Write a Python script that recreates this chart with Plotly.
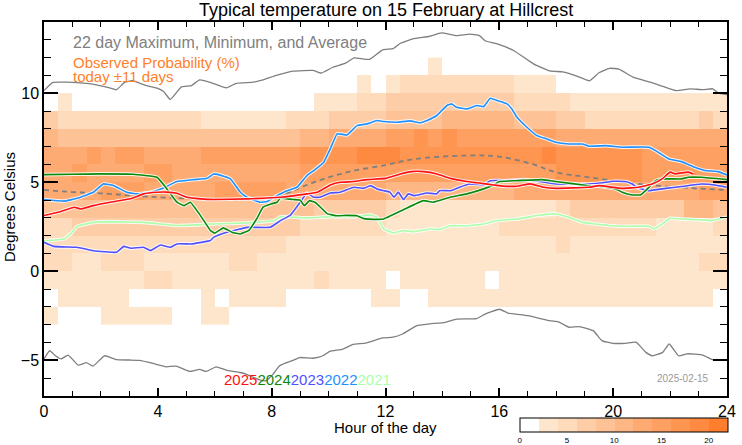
import numpy as np
import plotly.graph_objects as go

# ---------------- heatmap data (observed probability, %) ----------------
hour_edges = np.arange(0, 24.01, 0.5)          # 48 half-hour bins
temp_edges = np.arange(-3, 12.01, 1.0)         # 15 one-degree bins (-3 .. 12)

prob_m3 = [3,0,0,0,3,3,3,3,3,0,0,3, 3,0,0,0,0,0,0,0,0,0,0,0, 0,0,0,0,0,0,0,0,0,0,0,0, 0,0,0,0,0,0,0,0,0,0,0,0]
prob_m2 = [0,3,3,3,3,3,0,0,0,0,0,3, 0,3,3,3,3,0,0,0,0,0,0,3, 3,0,0,3,3,3,3,3,3,3,3,3, 3,3,3,3,3,3,3,3,3,3,3,0]
prob_m1 = [3,3,3,3,3,3,3,5,5,3,3,3, 3,3,3,3,3,3,3,5,3,3,3,3, 0,3,3,3,3,3,3,0,3,3,3,3, 3,3,3,3,3,3,3,3,3,3,3,3]
prob_p0 = [5,5,3,3,5,5,5,3,3,3,3,3, 3,5,5,3,3,3,3,3,3,3,3,3, 3,3,3,3,3,3,3,3,3,3,3,3, 3,3,3,3,3,3,3,3,3,3,5,5]
prob_p1 = [5,5,5,5,5,5,5,5,5,5,5,5, 5,5,5,5,5,3,3,3,3,3,3,3, 3,3,3,3,3,3,3,3,3,3,3,3, 5,3,3,3,3,3,3,3,3,3,3,3]
prob_p2 = [5,5,7,7,7,7,7,7,7,7,7,7, 7,7,7,7,7,7,5,5,5,5,5,5, 3,3,3,3,3,3,3,3,5,5,5,5, 5,5,5,5,5,5,5,3,3,3,3,5]
prob_p3 = [9,9,9,9,9,9,9,9,9,9,9,9, 9,9,9,9,9,9,9,7,7,7,7,7, 5,3,3,3,3,3,3,3,3,3,3,3, 5,7,7,7,7,7,7,7,7,11,11,9]
prob_p4 = [13,13,13,13,15,15,15,13,13,13,13,13, 15,15,15,15,15,13,13,13,13,13,13,13, 11,11,11,11,11,11,11,11,11,13,13,13, 13,13,13,13,13,13,13,13,13,13,15,15]
prob_p5 = [13,13,15,13,13,13,13,15,15,13,13,13, 13,13,13,13,13,13,15,15,15,15,15,15, 15,15,15,15,15,15,15,15,15,15,15,15, 17,17,17,17,17,17,15,15,15,15,15,15]
prob_p6 = [13,13,13,15,13,15,15,13,13,13,13,15, 15,15,15,15,15,15,17,17,17,17,19,19, 19,17,17,17,17,17,17,17,17,17,17,19, 17,17,17,17,17,17,15,15,15,15,15,15]
prob_p7 = [11,9,9,9,9,9,9,9,9,9,9,9, 9,9,9,9,9,9,11,11,13,13,13,13, 15,15,17,15,17,15,15,15,15,15,15,15, 13,13,13,13,13,13,13,13,13,13,13,13]
prob_p8 = [7,5,5,5,5,5,5,5,5,5,5,3, 3,3,3,3,3,5,5,5,7,7,7,7, 9,9,9,9,11,11,11,11,11,9,9,9, 7,7,5,5,5,5,5,5,5,5,7,5]
prob_p9 = [0,3,0,0,0,0,0,0,0,0,0,0, 0,0,0,0,0,0,0,3,3,3,5,5, 7,7,7,7,7,7,7,7,7,5,5,5, 5,3,3,3,3,3,3,3,3,3,3,3]
prob_p10 = [0,0,0,0,0,0,0,0,0,0,0,0, 0,0,0,0,0,0,0,0,0,0,3,0, 3,5,5,5,5,5,5,5,5,3,3,3, 0,0,0,0,0,0,0,0,0,0,0,0]
prob_p11 = [0,0,0,0,0,0,0,0,0,0,0,0, 0,0,0,0,0,0,0,0,0,0,0,0, 0,0,0,3,0,0,0,0,0,0,0,0, 0,0,0,0,0,0,0,0,0,0,0,0]

prob_rows = [prob_m3, prob_m2, prob_m1, prob_p0, prob_p1, prob_p2, prob_p3, prob_p4,
             prob_p5, prob_p6, prob_p7, prob_p8, prob_p9, prob_p10, prob_p11]

# ---------------- 22-day max / min / average ----------------
max_h = [0,0.3,0.8,1.5,1.96,2.31,2.54,2.84,3.1,3.6,3.95,4.2,4.44,4.83,5.18,5.47,5.94,6.41,6.76,7.35,7.7,8.16,8.75,9.45,9.75,10.15,10.6,10.9,11.44,11.9,12.26,12.5,12.96,13.55,13.96,14.5,14.96,15.3,15.5,15.9,16.5,17.2,17.77,18.23,18.7,19.17,19.5,19.87,20.2,20.7,21.3,21.75,22.2,22.7,23.15,23.5,23.7,24]
max_t = [10.15,10.6,10.62,10.55,10.43,10.3,10.19,10.62,10.7,10.43,10.3,10.1,9.65,10.36,10.43,10.75,10.56,10.3,10.56,10.62,10.75,11.0,11.24,11.28,11.13,11.46,11.69,11.99,11.9,12.44,12.5,12.78,13.05,13.2,13.39,13.24,13.32,13.24,12.95,12.78,12.4,11.65,11.25,11.2,10.98,10.7,11.15,11.4,11.35,10.9,10.62,10.38,10.15,10.25,10.2,10.25,10.0,9.93]

min_h = [0,0.2,0.4,0.6,0.85,1.2,1.49,1.72,2.13,2.54,3.0,3.36,3.83,4.3,4.65,5.12,5.47,5.7,6.05,6.4,6.88,7.1,7.58,7.81,8.05,8.28,8.75,8.98,9.45,9.8,10.04,10.5,10.86,11.3,11.9,12.26,12.6,13.1,13.55,14.1,14.5,15.2,15.5,16.0,16.3,17.0,17.77,18.1,18.45,18.8,19.3,19.6,19.99,20.44,20.8,21.15,21.38,21.74,21.97,22.3,22.6,23.15,23.5,24]
min_t = [-4.92,-4.46,-4.74,-4.92,-4.7,-5.27,-5.13,-5.32,-4.74,-4.96,-4.98,-5.0,-5.17,-5.36,-5.32,-5.62,-5.5,-5.62,-5.36,-5.55,-5.68,-5.77,-6.1,-6.14,-5.77,-5.3,-5.0,-4.84,-4.88,-4.74,-4.5,-4.37,-4.1,-4.03,-3.74,-3.7,-3.52,-3.05,-2.95,-2.86,-2.68,-2.65,-2.4,-2.13,-2.34,-2.49,-2.77,-2.85,-3.14,-3.1,-3.33,-3.89,-4.04,-4.04,-3.98,-4.55,-4.74,-4.55,-4.08,-4.74,-4.63,-4.7,-4.96,-4.98]

avg_h = [0,1.0,2.0,3.6,5.5,7.13,8.31,9.48,10.65,12.0,13.0,14.86,16.0,17.2,17.97,19.15,20.9,22.64,24]
avg_t = [4.57,4.45,4.38,4.2,4.07,4.05,4.29,5.0,5.57,5.97,6.3,6.5,6.44,6.0,5.57,5.28,4.91,4.68,4.57]

# ---------------- individual years ----------------
y2025_h = [0,0.59,1.06,1.3,1.73,2.32,3.03,3.5,3.97,4.3,4.67,5.02,5.5,5.96,7.13,8.31,9.24,9.6,10.06,10.41,10.88,11.35,12.0,12.52,12.9,13.34,13.81,14.28,14.86,15.22,15.8,16.16,16.62,17.09,17.56,17.98,19.15,19.5,20.32,20.9,21.37,21.72,22.0,22.19,22.4,22.64,22.81]
y2025_t = [3.13,3.36,3.6,3.5,3.69,3.88,4.07,4.35,4.44,4.45,4.38,4.16,4.07,4.03,4.07,4.16,4.35,4.44,4.85,5.0,5.04,5.15,5.22,5.47,5.6,5.6,5.47,5.22,5.04,4.97,4.85,4.78,4.78,4.91,4.72,4.66,4.72,4.81,4.66,4.72,4.9,5.19,5.57,5.47,5.53,5.57,5.47]

y2024_h = [0,1.0,2.0,3.13,3.97,4.32,4.67,4.92,5.14,5.5,5.85,6.0,6.3,6.6,6.9,7.2,7.47,7.7,8.0,8.19,8.3,8.77,9.0,9.15,9.33,9.55,9.95,10.3,10.65,11.0,11.24,11.6,11.93,12.63,13.33,13.68,14.27,14.86,15.45,15.8,16.0,16.6,17.5,17.98,19.15,19.5,20.09,20.32,20.67,20.96,21.14,21.49,21.84,22.4,22.64,23.1,24]
y2024_t = [5.43,5.45,5.47,5.45,5.28,4.63,3.88,3.69,3.88,3.13,2.29,2.15,2.44,2.2,2.1,2.3,2.94,3.6,3.79,3.88,4.1,4.03,4.0,3.69,3.97,3.85,3.24,3.12,3.14,3.12,2.96,2.92,2.94,3.46,3.97,3.88,4.16,4.35,4.63,4.85,5.04,5.09,5.15,5.04,4.81,4.78,4.63,4.44,4.29,4.29,4.53,5.09,5.19,5.19,5.28,5.28,5.15]

y2023_h = [0,0.35,1.15,1.73,2.55,2.8,3.05,3.5,3.74,4.09,4.44,4.67,5.2,5.85,5.96,6.43,7.13,7.95,8.31,8.66,9.0,9.24,9.47,9.7,10.06,10.41,10.88,11.23,11.47,11.7,11.94,12.15,12.3,12.45,12.63,12.8,13.0,13.45,13.8,13.9,14.3,14.6,14.95,15.2,15.45,15.68,16.2,16.85,17.43,17.98,19.15,19.74,19.97,20.44,20.67,20.9,21.25,21.84,22.4,23.1,23.57,23.99]
y2023_t = [1.63,1.4,1.35,1.16,1.07,1.4,1.3,1.35,1.16,1.48,1.35,1.54,1.54,1.73,1.91,2.19,2.47,2.47,2.85,3.16,3.88,4.4,4.16,4.16,4.4,4.44,4.72,4.66,4.81,4.63,4.53,4.45,4.16,4.45,4.03,4.35,4.25,4.4,4.35,4.53,4.53,4.72,4.9,4.88,4.85,5.09,5.09,5.15,5.04,4.9,4.9,5.0,5.06,5.04,4.9,4.66,4.53,4.66,4.76,4.9,4.85,4.72]

y2022_h = [0,0.7,1.17,1.73,2.09,2.44,2.91,3.27,3.74,4.2,4.67,5.26,5.73,5.96,6.31,6.55,6.9,7.13,7.6,7.84,8.19,8.54,8.89,9.24,9.48,9.83,10.06,10.3,10.65,11.0,11.35,11.7,11.94,12.4,12.87,13.2,13.46,13.8,14.16,14.33,14.5,14.86,15.2,15.45,15.68,15.92,16.27,16.44,16.62,16.97,17.32,17.67,17.98,18.45,18.92,19.15,19.74,20.32,21.25,21.49,21.96,22.4,22.87,23.22,23.69,24]
y2022_t = [4.03,3.94,4.1,4.44,4.91,4.82,4.44,4.35,4.44,4.68,5.04,5.15,5.22,5.47,5.34,5.19,4.44,4.16,3.88,3.92,4.25,4.53,4.72,5.38,5.66,6.13,6.88,7.72,7.66,8.18,8.28,8.47,8.41,8.37,8.45,8.33,8.47,8.75,9.31,9.4,9.21,9.12,9.31,9.25,9.72,9.59,9.4,9.12,8.65,8.09,7.62,7.43,7.25,7.15,7.15,7.02,7.06,6.97,6.97,6.78,6.31,6.16,5.84,5.66,5.6,5.41]

y2021_h = [0,0.7,0.94,1.17,1.75,2.3,3.5,4.09,4.67,5.5,5.96,7.13,8.1,8.31,9.24,10.06,10.88,11.47,11.7,11.94,12.29,12.63,13.0,13.57,13.9,14.27,14.86,15.45,15.92,16.62,16.97,17.43,17.98,18.45,18.92,19.38,19.85,20.32,21.25,21.43,21.72,22.0,22.4,22.99,23.46,24]
y2021_t = [1.72,1.82,2.1,2.53,2.75,2.79,2.75,2.66,2.57,2.62,2.66,2.72,2.85,3.07,3.0,3.07,3.07,3.17,3.03,2.37,2.16,2.29,2.23,2.38,2.35,2.56,2.56,2.66,2.85,2.94,3.03,3.16,3.22,3.03,2.75,2.66,2.57,2.53,2.53,2.38,2.66,2.98,2.94,2.9,2.85,3.05]

year_names = ["2025", "2024", "2023", "2022", "2021"]
year_colors = ["#FF1010", "#0A8A0A", "#5050FF", "#1E90FF", "#AAFFAA"]
year_series = [(y2025_h, y2025_t), (y2024_h, y2024_t), (y2023_h, y2023_t),
               (y2022_h, y2022_t), (y2021_h, y2021_t)]

# ---------------- colour scale (11 discrete bands, 0..22 %) ----------------
band_colors = ["#FFFFFF", "#FEE6CD", "#FDDBBB", "#FDCDA7", "#FDC296", "#FDB785",
               "#FDAB73", "#FDA062", "#FE9652", "#FE8A41", "#FF7E2D"]
zmax = 22
nb = len(band_colors)
cscale = []
for k, c in enumerate(band_colors):
    cscale.append([k / nb, c])
    cscale.append([(k + 1) / nb, c])

FONT = "Liberation Sans, Arial, Helvetica, sans-serif"

fig = go.Figure()

fig.add_trace(go.Heatmap(
    x=hour_edges, y=temp_edges, z=prob_rows,
    zmin=0, zmax=zmax, colorscale=cscale, zsmooth=False,
    hoverinfo="skip",
    colorbar=dict(
        orientation="h", x=0.6965, xanchor="left", y=-0.0596, yanchor="top",
        len=0.304, lenmode="fraction", thickness=14, xpad=0, ypad=0,
        outlinewidth=1, outlinecolor="black",
        tickvals=[0, 5, 10, 15, 20], ticks="", ticklabelposition="outside bottom",
        tickfont=dict(size=8, family=FONT, color="black"),
    ),
))

gray = "#7f7f7f"
fig.add_trace(go.Scatter(x=max_h, y=max_t, mode="lines",
                         line=dict(color=gray, width=1.3, shape="spline", smoothing=0.4),
                         hoverinfo="skip", showlegend=False))
fig.add_trace(go.Scatter(x=min_h, y=min_t, mode="lines",
                         line=dict(color=gray, width=1.3, shape="spline", smoothing=0.4),
                         hoverinfo="skip", showlegend=False))
fig.add_trace(go.Scatter(x=avg_h, y=avg_t, mode="lines",
                         line=dict(color=gray, width=1.8, dash="5px,4px", shape="spline"),
                         hoverinfo="skip", showlegend=False))

# years, plotted oldest first so 2025 ends on top
for name, col, (hh, tt) in reversed(list(zip(year_names, year_colors, year_series))):
    fig.add_trace(go.Scatter(x=hh, y=tt, mode="lines",
                             line=dict(color="rgba(255,255,255,0.85)", width=3.6, shape="spline", smoothing=0.3),
                             hoverinfo="skip", showlegend=False))
    fig.add_trace(go.Scatter(x=hh, y=tt, mode="lines", name=name,
                             line=dict(color=col, width=1.6, shape="spline", smoothing=0.3),
                             hoverinfo="skip", showlegend=False))

axis_common = dict(showline=True, linecolor="black", linewidth=1.5, mirror="ticks",
                   showgrid=False, zeroline=False, ticks="inside", tickcolor="black",
                   tickfont=dict(size=16, family=FONT, color="black"), automargin=False)

fig.update_xaxes(range=[0, 24], tickvals=[0, 4, 8, 12, 16, 20, 24], ticklen=8, tickwidth=1.5,
                 minor=dict(tick0=0, dtick=1, ticks="inside", ticklen=5, tickwidth=1, tickcolor="black"),
                 **axis_common)
fig.update_yaxes(range=[-7, 14], tickvals=[-5, 0, 5, 10], ticklen=14, tickwidth=1.5,
                 minor=dict(tick0=0, dtick=1, ticks="inside", ticklen=7, tickwidth=1, tickcolor="black"),
                 **axis_common)

annotations = [
    dict(text="Typical temperature on 15 February at Hillcrest", x=0.5, y=1.031,
         xref="paper", yref="paper", xanchor="center", yanchor="middle", showarrow=False,
         font=dict(size=18, family=FONT, color="black")),
    dict(text="22 day Maximum, Minimum, and Average", x=0.040, y=0.944,
         xref="paper", yref="paper", xanchor="left", yanchor="middle", showarrow=False,
         font=dict(size=16, family=FONT, color="#808080")),
    dict(text="Observed Probability (%)", x=0.040, y=0.892,
         xref="paper", yref="paper", xanchor="left", yanchor="middle", showarrow=False,
         font=dict(size=15, family=FONT, color="#FF7F2A")),
    dict(text="today ±11 days", x=0.040, y=0.855,
         xref="paper", yref="paper", xanchor="left", yanchor="middle", showarrow=False,
         font=dict(size=15, family=FONT, color="#FF7F2A")),
    dict(text="".join(f"<span style='color:{c}'>{n}</span>" for n, c in zip(year_names, year_colors)),
         x=0.386, y=0.044, xref="paper", yref="paper", xanchor="center", yanchor="middle",
         showarrow=False, font=dict(size=15, family=FONT)),
    dict(text="2025-02-15", x=0.935, y=0.0465, xref="paper", yref="paper",
         xanchor="center", yanchor="middle", showarrow=False,
         font=dict(size=10, family=FONT, color="#999999")),
    dict(text="Degrees Celsius", x=-0.0502, y=0.5045, xref="paper", yref="paper",
         xanchor="center", yanchor="middle", textangle=-90, showarrow=False,
         font=dict(size=15, family=FONT, color="black")),
    dict(text="Hour of the day", x=0.5, y=-0.083, xref="paper", yref="paper",
         xanchor="center", yanchor="middle", showarrow=False,
         font=dict(size=15, family=FONT, color="black")),
]

fig.update_layout(
    width=742, height=445,
    margin=dict(l=44, r=15, t=22, b=49, autoexpand=False),
    paper_bgcolor="white", plot_bgcolor="white",
    showlegend=False, annotations=annotations,
    font=dict(family=FONT),
)

fig.write_html("out.html", config={"displayModeBar": False},
               post_script="document.body.style.margin='0px';document.body.style.overflow='hidden';")
